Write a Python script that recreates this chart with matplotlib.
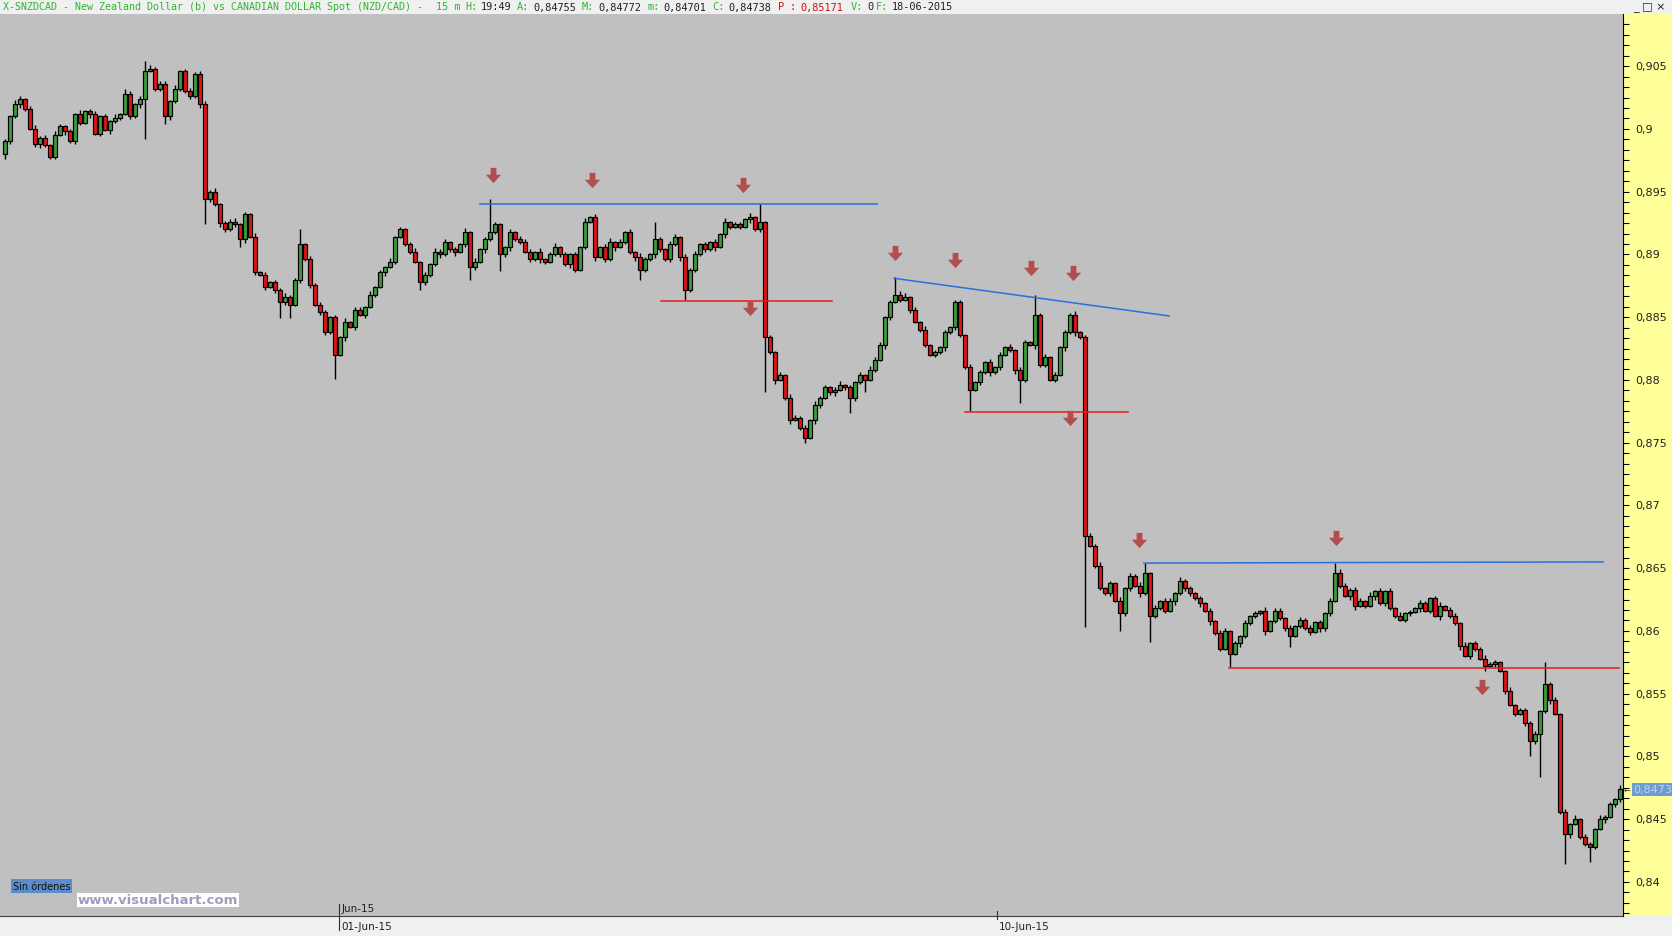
import matplotlib
matplotlib.use("Agg")
import matplotlib.pyplot as plt
import numpy as np
from matplotlib.path import Path
from matplotlib.lines import Line2D
from matplotlib.ticker import MultipleLocator
from matplotlib.transforms import blended_transform_factory

# closes of each bar, in units of 0.0001 (NZD/CAD)
closes = [
    8990, 9010, 9020, 9024, 9016, 9000, 8988, 8993, 8987, 8978,
    8995, 9002, 8998, 8990, 9012, 9005, 9014, 9012, 8996, 9010,
    8999, 9006, 9009, 9012, 9028, 9010, 9020, 9024, 9046, 9048,
    9032, 9036, 9010, 9022, 9032, 9046, 9030, 9026, 9044, 9020,
    8944, 8950, 8940, 8925, 8920, 8926, 8924, 8912, 8932, 8914,
    8886, 8884, 8874, 8878, 8872, 8862, 8866, 8860, 8880, 8908,
    8896, 8876, 8860, 8854, 8838, 8850, 8820, 8834, 8846, 8842,
    8856, 8852, 8858, 8868, 8874, 8886, 8890, 8894, 8914, 8920,
    8908, 8902, 8894, 8878, 8884, 8892, 8902, 8900, 8910, 8904,
    8902, 8908, 8918, 8890, 8894, 8904, 8912, 8918, 8924, 8900,
    8906, 8918, 8912, 8910, 8902, 8896, 8902, 8896, 8894, 8900,
    8906, 8900, 8892, 8900, 8888, 8906, 8926, 8930, 8898, 8906,
    8896, 8910, 8906, 8910, 8918, 8902, 8898, 8888, 8896, 8900,
    8912, 8904, 8896, 8908, 8914, 8898, 8872, 8888, 8900, 8908,
    8904, 8910, 8906, 8916, 8926, 8922, 8924, 8922, 8928, 8930,
    8920, 8926, 8834, 8822, 8800, 8804, 8786, 8768, 8770, 8762,
    8754, 8768, 8780, 8786, 8794, 8790, 8792, 8796, 8794, 8786,
    8798, 8804, 8800, 8808, 8816, 8828, 8850, 8862, 8868, 8864,
    8866, 8856, 8846, 8840, 8828, 8820, 8822, 8826, 8838, 8842,
    8862, 8836, 8810, 8792, 8798, 8806, 8814, 8806, 8810, 8820,
    8826, 8824, 8808, 8800, 8830, 8828, 8852, 8812, 8818, 8800,
    8804, 8826, 8838, 8852, 8838, 8834, 8676, 8668, 8652, 8634,
    8630, 8638, 8624, 8614, 8634, 8644, 8636, 8630, 8646, 8612,
    8618, 8624, 8616, 8624, 8630, 8640, 8634, 8630, 8626, 8622,
    8616, 8608, 8598, 8586, 8600, 8582, 8590, 8596, 8606, 8612,
    8614, 8616, 8600, 8608, 8616, 8610, 8602, 8596, 8604, 8609,
    8602, 8599, 8607, 8602, 8614, 8624, 8646, 8636, 8628, 8633,
    8620, 8624, 8620, 8628, 8632, 8622, 8632, 8618, 8612, 8609,
    8614, 8615, 8618, 8622, 8616, 8626, 8612, 8620, 8617, 8612,
    8606, 8588, 8580, 8590, 8586, 8578, 8572, 8574, 8575, 8568,
    8552, 8541, 8534, 8537, 8527, 8512, 8518, 8536, 8558, 8545,
    8534, 8456, 8438, 8446, 8450, 8436, 8430, 8428, 8442, 8450,
    8452, 8462, 8466, 8474,
]
first_open = 8980

# wick lengths beyond the body, in pips, one digit per bar
up_wick = ("2132123121" "3212131221" "2131321213" "1221312312" "2131223121"
           "3121213212" "1312212131" "2213121312" "1231213221" "2131312121"
           "1213221312" "3121213121" "2312121321" "1213212131" "2121312213"
           "1312121321" "2131212312" "1213221213" "3121312121" "2213121312"
           "1312212131" "2121312213" "1213121321" "3122131212" "1213212131"
           "2131221312" "1312121321" "2213121213" "1213212312" "2131213121"
           "1312212131" "2121312213" "1213")
dn_wick = ("1213212312" "2131221312" "1312121321" "2213121213" "1213212131"
           "2121312213" "1312212131" "2131213121" "1213221312" "3121213121"
           "2312121321" "1213212131" "2131223121" "3212131221" "2131321213"
           "1221312312" "2132123121" "3121213212" "1312212131" "2213121312"
           "1231213221" "2131312121" "1213221312" "2121312213" "1312121321"
           "2131212312" "1213221213" "3121312121" "2213121312" "1312212131"
           "2121312213" "1213121321" "3122")

# long shadows read individually (bar index -> price in pips)
spike_high = {24: 9032, 28: 9054, 59: 8920, 97: 8944, 130: 8926, 151: 8940,
              178: 8882, 206: 8868, 228: 8654, 266: 8654, 308: 8575}
spike_low = {0: 8976, 28: 8992, 32: 9004, 40: 8924, 47: 8906, 55: 8849, 57: 8849,
             66: 8801, 83: 8872, 93: 8880, 99: 8887, 127: 8880, 136: 8864,
             152: 8790, 160: 8750, 169: 8774, 172: 8790, 193: 8775, 203: 8782,
             216: 8603, 223: 8600, 229: 8591, 245: 8571, 257: 8587, 296: 8568,
             305: 8500, 307: 8484, 312: 8414, 317: 8416}

# trend lines drawn on the chart: (bar, price) pairs
blue_lines = [((95.0, 0.8940), (174.4, 0.8940)),
              ((177.8, 0.8881), (232.8, 0.8851)),
              ((227.8, 0.86541), (319.6, 0.86550))]
red_lines = [((131.2, 0.88631), (165.4, 0.88631)),
             ((192.0, 0.87747), (224.6, 0.87747)),
             ((244.8, 0.85708), (322.8, 0.85708))]
arrow_bars = [97.5, 117.4, 147.6, 148.9, 177.9, 189.9, 205.2, 213.5, 212.9, 226.8, 266.2, 295.4]
arrow_prices = [0.89633, 0.89591, 0.89557, 0.88571, 0.89013, 0.88954, 0.88894, 0.88852,
                0.87696, 0.86727, 0.86744, 0.85555]

date_ticks = [66.8, 198.4]
date_labels = ["01-Jun-15", "10-Jun-15"]
month_label = "Jun-15"
last_price = 0.84738

W, H = 1672, 937
fig = plt.figure(figsize=(W / 100, H / 100), dpi=100)
fig.patch.set_facecolor("#f0f0f0")

bot = (H - 917) / H
top_h = (917 - 15) / H
ax = fig.add_axes([0, bot, 1623 / W, top_h])
ax.set_facecolor("#c0c0c0")
for s in ["top", "left", "right"]:
    ax.spines[s].set_visible(False)
ax.spines["bottom"].set_color("#404040")
ax.set_xticks([])
ax.set_yticks([])
ylo, yhi = 0.837287, 0.909159
ax.set_ylim(ylo, yhi)
ax.set_xlim(-1, 323.6)

c = np.array(closes) / 10000
o = np.r_[first_open / 10000, c[:-1]]
hi = np.maximum(o, c) + np.array([int(d) for d in up_wick]) / 10000
lo = np.minimum(o, c) - np.array([int(d) for d in dn_wick]) / 10000
for k, v in spike_high.items():
    hi[k] = v / 10000
for k, v in spike_low.items():
    lo[k] = v / 10000
x = np.arange(len(c))

ax.vlines(x, lo, hi, color="black", lw=1.0, zorder=2)
cols = np.where(c >= o, "#3c9a3c", "#e01414")
body = np.where(np.abs(c - o) < 0.00003, 0.00003, c - o)
ax.bar(x, body, bottom=o, width=0.72, color=cols, edgecolor="black", lw=0.85, zorder=3)

for (x0, y0), (x1, y1) in blue_lines:
    ax.plot([x0, x1], [y0, y1], color="#2a6fdc", lw=1.1, zorder=4)
for (x0, y0), (x1, y1) in red_lines:
    ax.plot([x0, x1], [y0, y1], color="#e41c1c", lw=1.1, zorder=4)

arrow = Path([(-0.38, 1), (0.38, 1), (0.38, 0.1), (1, 0.1), (0, -1), (-1, 0.1),
              (-0.38, 0.1), (-0.38, 1)], closed=True)
ax.plot(arrow_bars, arrow_prices, ls="none", marker=arrow, markersize=11,
        color="#b44e4e", markeredgewidth=0, zorder=5)

# price scale on the right
ax2 = fig.add_axes([1623 / W, bot, (W - 1623) / W, top_h])
ax2.set_facecolor("#ffff99")
ax2.set_ylim(ylo, yhi)
ax2.set_xlim(0, 1)
ax2.set_xticks([])
for s in ["top", "right", "bottom"]:
    ax2.spines[s].set_visible(False)
ax2.spines["left"].set_color("black")
ax2.yaxis.set_major_locator(MultipleLocator(0.005))
ax2.yaxis.set_minor_locator(MultipleLocator(0.005 / 6))
ax2.tick_params(axis="y", which="both", direction="in", length=4, width=0.8,
                labelleft=False, color="black")
for v in np.arange(0.84, 0.9051, 0.005):
    lab = ("%.3f" % v).rstrip("0").rstrip(".").replace(".", ",")
    ax2.text(0.25, v, lab, fontsize=8, va="center", ha="left", color="#202020")
ax2.text(0.21, last_price, "0,8473", fontsize=8, va="center", ha="left", color="#b8d4f4",
         bbox=dict(boxstyle="square,pad=0.15", fc="#6d9bd2", ec="none"))
ax2.text(0.02, last_price, "\u2190", fontsize=6, va="center", ha="left", color="#303030")

# header
hy = 1 - 7.5 / H
G, K, R = "#2fb52f", "#202020", "#d01010"
header = [(3, "X-SNZDCAD - New Zealand Dollar (b) vs CANADIAN DOLLAR Spot (NZD/CAD) -", G, 7.2),
          (436, "15 m", G, 7.4), (465, "H:", G, 7.4), (481, "19:49", K, 7.4),
          (517, "A:", G, 7.4), (533, "0,84755", K, 7.4),
          (582, "M:", G, 7.4), (598, "0,84772", K, 7.4),
          (647, "m:", G, 7.4), (663, "0,84701", K, 7.4),
          (712, "C:", G, 7.4), (728, "0,84738", K, 7.4),
          (778, "P", R, 7.4), (790, ":", R, 7.4), (800, "0,85171", R, 7.4),
          (851, "V:", G, 7.4), (867, "0", K, 7.4),
          (876, "F:", G, 7.4), (892, "18-06-2015", K, 7.4)]
for px, t, col, fs in header:
    fig.text(px / W, hy, t, fontsize=fs, family="DejaVu Sans Mono", color=col,
             va="center", ha="left")
fig.text(1633 / W, 1 - 7 / H, "_ \u25a1 \u00d7", fontsize=8, color="#202020", va="center", ha="left")

# date axis
bt = blended_transform_factory(ax.transData, fig.transFigure)
for k, (tx, lab) in enumerate(zip(date_ticks, date_labels)):
    y0 = (H - 931) / H if k == 0 else (H - 920) / H
    y1 = (H - 905) / H if k == 0 else (H - 912) / H
    fig.add_artist(Line2D([tx, tx], [y0, y1], transform=bt, color="#303030", lw=0.8))
    ax.annotate(lab, xy=(tx, (H - 927) / H), xycoords=bt, xytext=(1.5, 0),
                textcoords="offset points", fontsize=7.5, va="center", ha="left",
                color="#202020", annotation_clip=False)
ax.annotate(month_label, xy=(date_ticks[0], (H - 909) / H), xycoords=bt, xytext=(1.5, 0),
            textcoords="offset points", fontsize=7.5, va="center", ha="left",
            color="#202020", annotation_clip=False)

fig.text(13 / W, (H - 887) / H, "Sin \u00f3rdenes", fontsize=7, color="#101010", va="center",
         ha="left", bbox=dict(boxstyle="square,pad=0.2", fc="#5b8ccb", ec="none"))
fig.text(78 / W, (H - 901) / H, "www.visualchart.com", fontsize=9.5, fontweight="bold",
         color="#9d9dbd", va="center", ha="left",
         bbox=dict(boxstyle="square,pad=0.05", fc="white", ec="none"))

fig.savefig("out.png", dpi=100, facecolor=fig.get_facecolor())
